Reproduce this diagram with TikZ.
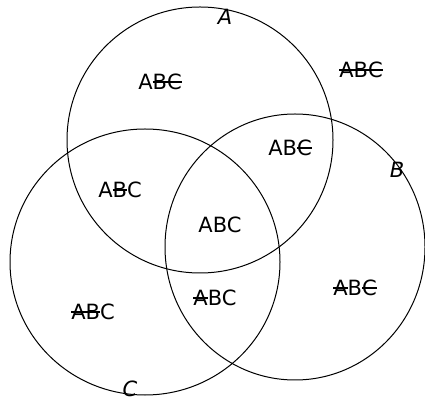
\documentclass[tikz,border=0pt]{standalone}
\usepackage{fontspec}
\setmainfont{DejaVu Sans}
\newcommand{\strk}[1]{\setbox0\hbox{#1}\rlap{\rule[0.32em]{\wd0}{0.07em}}\box0}
\begin{document}
\begin{tikzpicture}[x=1pt, y=1pt,
    set/.style={draw, line width=1pt},
    region/.style={font=\fontsize{21}{21}\selectfont, inner sep=0pt},
    setname/.style={font=\fontsize{21}{21}\selectfont\itshape, inner sep=0pt}]

  \useasboundingbox (0,0) rectangle (425,401);

  % the three sets
  \draw[set] (200,261) circle (133);
  \draw[set] (295,154) ellipse (130 and 133);
  \draw[set] (145,139) ellipse (135 and 133);

  % set names
  \node[setname] (nameA) at (225,384) {A};
  \node[setname] (nameB) at (397,231) {B};
  \node[setname] (nameC) at (130,12)  {C};

  % regions
  \node[region] (a)   at (160,319) {A\strk{B}\strk{C}};
  \node[region] (out) at (361,331) {\strk{A}\strk{B}\strk{C}};
  \node[region] (ab)  at (290,253) {AB\strk{C}};
  \node[region] (ac)  at (120,211) {A\strk{B}C};
  \node[region] (abc) at (220,176) {ABC};
  \node[region] (c)   at (93,89)   {\strk{A}\strk{B}C};
  \node[region] (bc)  at (215,103) {\strk{A}BC};
  \node[region] (b)   at (355,113) {\strk{A}B\strk{C}};

\end{tikzpicture}
\end{document}
